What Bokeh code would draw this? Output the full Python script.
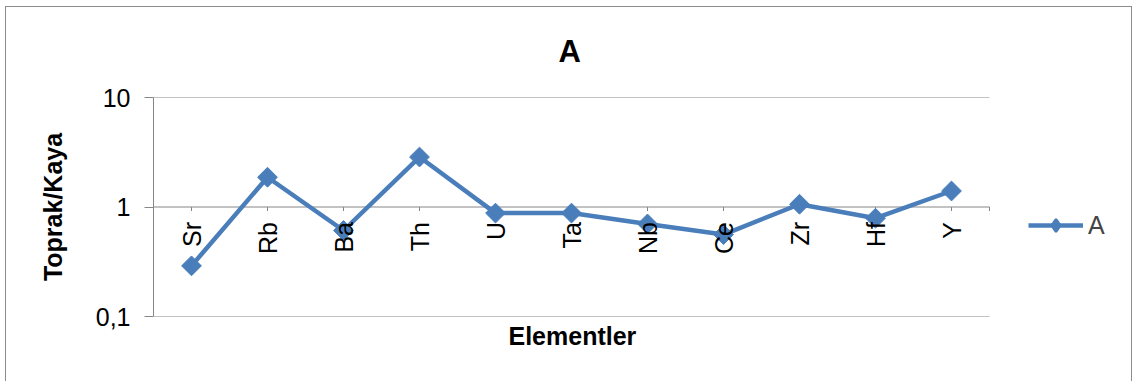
import math

import numpy as np
from bokeh.core.properties import value
from bokeh.embed import file_html
from bokeh.models import (ColumnDataSource, FixedTicker, InlineStyleSheet, Legend,
                          LegendItem, Range1d, Title)
from bokeh.plotting import figure
from bokeh.resources import INLINE

# Element ratios (soil / rock)
elements = ["Sr", "Rb", "Ba", "Th", "U", "Ta", "Nb", "Ce", "Zr", "Hf", "Y"]
ratio_a = [0.29, 1.87, 0.61, 2.86, 0.88, 0.88, 0.70, 0.56, 1.06, 0.79, 1.40]

y_ticks = [0.1, 1, 10]
y_tick_labels = ["0,1", "1", "10"]

FONT = "Liberation Sans"
BLUE = "#4A7EBB"
GRAY = "#868686"

n = len(elements)
LEGEND_SLOTS = 2  # extra category widths kept free on the right for the legend

xs = [i + 0.5 for i in range(n)]
src = ColumnDataSource(dict(x=xs, y=ratio_a, name=elements))

p = figure(width=1141, height=381, y_axis_type="log",
           x_range=Range1d(0, n + LEGEND_SLOTS), y_range=Range1d(0.1, 10),
           output_backend="svg", toolbar_location=None,
           min_border_left=153, min_border_right=0,
           min_border_top=97, min_border_bottom=65)
p.outline_line_color = None
p.background_fill_color = "white"
p.border_fill_color = "white"

# Chart-area frame drawn around the whole figure
p.stylesheets = [InlineStyleSheet(css="""
:host { position: relative; overflow: hidden; }
:host::after {
  content: ""; position: absolute; left: 5px; top: 6px;
  width: 1127px; height: 420px; box-sizing: border-box;
  border: 1.5px solid #8c8c8c; pointer-events: none;
}
""")]

# Title
p.title.text = "A"
p.title.align = "left"
p.title.offset = 405
p.title.vertical_align = "bottom"
p.title.text_font = FONT
p.title.text_font_size = "31px"
p.title.text_font_style = "bold"
p.title.text_color = "black"
p.title.standoff = 58

# Y axis (log scale)
yax = p.yaxis[0]
yax.ticker = FixedTicker(ticks=y_ticks)
yax.major_label_overrides = {t: s for t, s in zip(y_ticks, y_tick_labels)}
yax.major_label_text_font = FONT
yax.major_label_text_font_size = "25px"
yax.major_label_text_color = "black"
yax.major_label_standoff = 14
yax.major_tick_out = 9
yax.major_tick_in = 0
yax.minor_tick_line_color = None
yax.axis_line_color = GRAY
yax.major_tick_line_color = GRAY
yax.axis_label = "Toprak/Kaya"
yax.axis_label_text_font = FONT
yax.axis_label_text_font_size = "25px"
yax.axis_label_text_font_style = "bold"
yax.axis_label_text_color = "black"
yax.axis_label_standoff = 26

# The horizontal axis is drawn by hand (gridlines + title below)
p.xaxis.visible = False
p.add_layout(Title(text="Elementler", align="left", offset=355, standoff=7,
                   text_font=FONT, text_font_size="25px", text_font_style="bold",
                   text_color="black"), "below")

p.xgrid.visible = False
p.ygrid.visible = False
p.segment(x0=[0] * len(y_ticks), x1=[n] * len(y_ticks), y0=y_ticks, y1=y_ticks,
          line_color=GRAY, line_width=1)

# Category ticks hanging from the y=1 line
tick_x = xs + [n]
p.ray(x=tick_x, y=[1] * len(tick_x), length=4, length_units="screen",
      angle=-math.pi / 2, line_color=GRAY, line_width=1)

# Series
line_r = p.line("x", "y", source=src, line_color=BLUE, line_width=4.5)
p.scatter("x", "y", source=src, marker="square", angle=math.pi / 4,
          size=14, fill_color=BLUE, line_color=BLUE)
# Marker used only for the legend swatch
legend_mark = p.scatter(x=np.array([np.nan]), y=np.array([np.nan]),
                        marker="diamond", size=16, line_width=2.5,
                        fill_color=BLUE, line_color=BLUE)

# Element names, rotated, just under the y=1 line
p.text(x="x", y=1, text="name", source=src, angle=math.pi / 2,
       text_align="right", text_baseline="middle", y_offset=15,
       text_font=value(FONT), text_font_size="25px", text_color="black")

legend = Legend(items=[LegendItem(label="A", renderers=[line_r, legend_mark])],
                location=(875, 75), orientation="vertical",
                padding=0, margin=0, spacing=0,
                glyph_width=55, glyph_height=32, label_standoff=5,
                label_text_font=FONT, label_text_font_size="25px",
                border_line_alpha=0, background_fill_alpha=0)
p.add_layout(legend, "center")

open("out.html", "w").write(file_html(p, INLINE))
